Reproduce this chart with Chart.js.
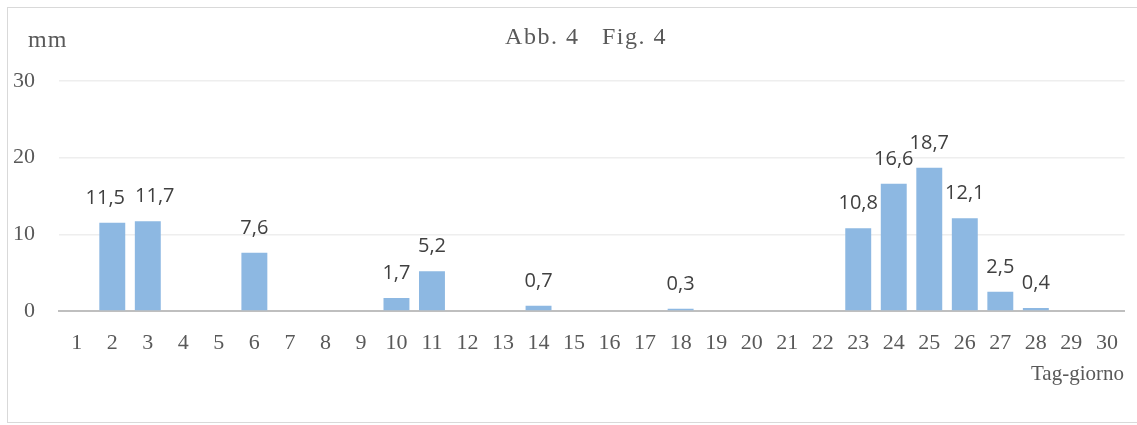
<!DOCTYPE html>
<html>
<head>
<meta charset="utf-8">
<script src="https://cdn.jsdelivr.net/npm/chart.js@4.4.1/dist/chart.umd.min.js"></script>
<style>
  html, body { margin: 0; padding: 0; background: #fff; overflow: hidden; }
  #frame { position: absolute; left: 7px; top: 7px; width: 1140px; height: 416px; border: 1px solid #d9d9d9; box-sizing: border-box; }
  #wrap { position: absolute; left: 0; top: 0; width: 1137px; height: 425px; }
</style>
</head>
<body>
<div id="frame"></div>
<div id="wrap"><canvas id="myChart"></canvas></div>
<script>
// Giorni del mese e precipitazioni (mm)
const days = ["1","2","3","4","5","6","7","8","9","10","11","12","13","14","15",
              "16","17","18","19","20","21","22","23","24","25","26","27","28","29","30"];
const rainMm = [0, 11.5, 11.7, 0, 0, 7.6, 0, 0, 0, 1.7, 5.2, 0, 0, 0.7, 0,
                0, 0, 0.3, 0, 0, 0, 0, 10.8, 16.6, 18.7, 12.1, 2.5, 0.4, 0, 0];
const yTicks = [0, 10, 20, 30];

const serif = "'Liberation Serif', 'DejaVu Serif', serif";
const textGrey = "#595959";

// etichette valori sopra le barre (virgola decimale)
const valueLabels = {
  id: "valueLabels",
  afterDatasetsDraw(chart) {
    const ctx = chart.ctx;
    const meta = chart.getDatasetMeta(0);
    ctx.save();
    ctx.font = "20px 'Open Sans', sans-serif";
    ctx.fillStyle = "#404040";
    ctx.textAlign = "center";
    ctx.textBaseline = "alphabetic";
    const items = [];
    meta.data.forEach((bar, i) => {
      const v = rainMm[i];
      if (!v) return;
      const txt = v.toFixed(1).replace(".", ",");
      items.push({ txt, x: bar.x, y: bar.y - 19, w: ctx.measureText(txt).width });
    });
    // separa le etichette che si sovrappongono
    for (let i = 1; i < items.length; i++) {
      const a = items[i - 1], b = items[i];
      const gap = 10;
      const need = (a.w + b.w) / 2 + gap - (b.x - a.x);
      if (need > 0 && Math.abs(a.y - b.y) < 14) {
        a.x -= need / 2;
        b.x += need / 2;
      }
    }
    items.forEach(it => ctx.fillText(it.txt, it.x, it.y));
    ctx.restore();
  }
};

// titolo e titoli degli assi
const chartTexts = {
  id: "chartTexts",
  afterDraw(chart) {
    const ctx = chart.ctx;
    ctx.save();
    ctx.fillStyle = textGrey;
    ctx.textBaseline = "middle";
    ctx.font = "24px " + serif;
    ctx.letterSpacing = "1.5px";
    ctx.textAlign = "center";
    ctx.fillText("Abb. 4   Fig. 4", 586, 38);
    ctx.letterSpacing = "1px";
    ctx.textAlign = "left";
    ctx.font = "24px " + serif;
    ctx.fillText("mm", 28, 41);
    ctx.letterSpacing = "0px";
    ctx.font = "21px " + serif;
    ctx.textAlign = "right";
    ctx.fillText("Tag-giorno", 1124, 374);
    ctx.restore();
  }
};

const ctx = document.getElementById("myChart").getContext("2d");
window.myChart = new Chart(ctx, {
  type: "bar",
  data: {
    labels: days,
    datasets: [
      {
        data: rainMm,
        backgroundColor: "rgb(141, 184, 226)",
        borderWidth: 0,
        categoryPercentage: 1,
        barPercentage: 0.73,
      },
    ],
  },
  options: {
    responsive: true,
    maintainAspectRatio: false,
    animation: false,
    layout: { padding: { top: 81, right: 7, left: 0, bottom: 0 } },
    plugins: {
      legend: { display: false },
      tooltip: { enabled: false },
    },
    scales: {
      x: {
        afterFit(s) { s.height = 114; },
        grid: { display: false, drawTicks: false },
        border: { display: true, color: "#bfbfbf", width: 2 },
        ticks: { color: textGrey, font: { family: serif, size: 22 }, padding: 19, maxRotation: 0, autoSkip: false },
      },
      y: {
        min: 0,
        max: 30,
        afterFit(s) { s.width = 59; },
        afterBuildTicks(s) { s.ticks = yTicks.map(v => ({ value: v })); },
        grid: { color: "#eeeeee", lineWidth: 1.5, drawTicks: false },
        border: { display: false },
        ticks: { color: textGrey, font: { family: serif, size: 22 }, padding: 24 },
      },
    },
  },
  plugins: [valueLabels, chartTexts],
});
</script>
</body>
</html>
